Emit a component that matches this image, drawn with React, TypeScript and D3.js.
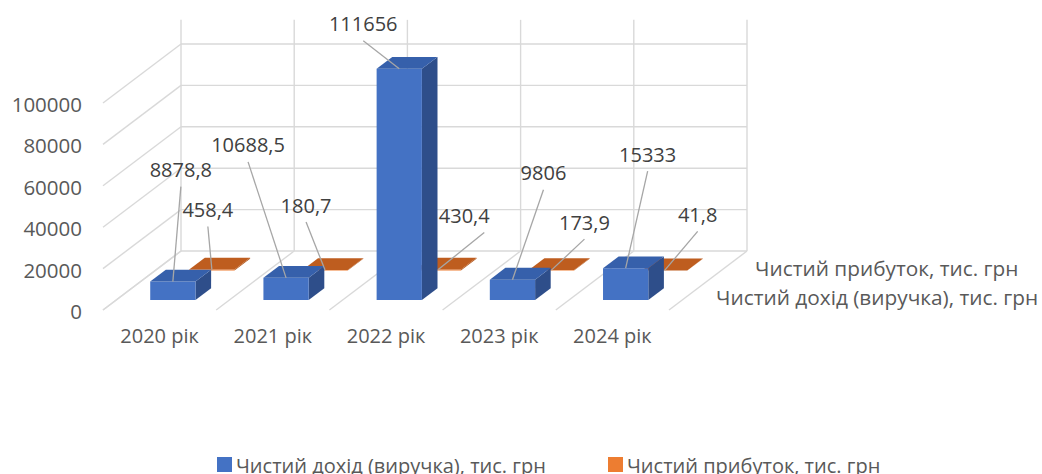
import * as d3 from "d3";

const categories = ["2020 рік", "2021 рік", "2022 рік", "2023 рік", "2024 рік"];
const revenue = [8878.8, 10688.5, 111656, 9806, 15333];
const profit = [458.4, 180.7, 430.4, 173.9, 41.8];
const seriesNames = ["Чистий дохід (виручка), тис. грн", "Чистий прибуток, тис. грн"];

// label placement relative to the bar's top-front edge: [dx, dy, leaderDx]
const revenueLabelPos = [[8, -112, 0], [-38, -133, 0], [-36, -45, 0], [31, -107, 0], [22, -114, 0]];
const profitLabelPos = [[-4, -60, 0], [-19, -65, 0], [26, -54, 20], [33, -48, 0], [33, -56, 0]];

const W = 1042;
const H = 474;
const X0 = 103; // front-left corner of the floor
const Y0 = 310;
const DX = 78; // depth shift, front -> back
const DY = 59;
const FLOOR_W = 566;
const FONT = "'Open Sans', 'DejaVu Sans', sans-serif";
const TEXT = "#595959";
const GRID = "#D9D9D9";

const colors = {
  revenue: { front: "#4472C4", side: "#2E4E8A", top: "#3660AB" },
  profit: { front: "#ED7D31", side: "#B05418", top: "#BE5D1F" },
};

const slot = d3.scaleBand<string>().domain(categories).range([0, FLOOR_W]);
const xBar = d3.scaleBand<string>().domain(categories).range([0, FLOOR_W]).paddingInner(0.6).paddingOuter(0.3);
const depth = d3.scaleBand<string>().domain(seriesNames).range([0.02, 1.02]).paddingInner(0.6).paddingOuter(0.3);
const yMax = d3.max(revenue) as number;
const y = d3.scaleLinear().domain([0, 100000]).range([0, 207]);
const ticks = y.ticks(6).filter((t) => t <= yMax);

const P = (u: number, d: number, v: number): [number, number] => [X0 + u + d * DX, Y0 - d * DY - y(v)];
const pts = (a: [number, number][]) => a.map((p) => p.join(",")).join(" ");
const fmt = (v: number) => String(v).replace(".", ",");

function Bar({ cat, series, v, c }: { cat: string; series: string; v: number; c: any }) {
  const u0 = xBar(cat)!;
  const u1 = u0 + xBar.bandwidth();
  const d0 = depth(series)!;
  const d1 = d0 + depth.bandwidth();
  const FBL = P(u0, d0, 0), FBR = P(u1, d0, 0), FTL = P(u0, d0, v), FTR = P(u1, d0, v);
  const BBR = P(u1, d1, 0), BTL = P(u0, d1, v), BTR = P(u1, d1, v);
  return (
    <g>
      <polygon points={pts([FBR, BBR, BTR, FTR])} fill={c.side} />
      <polygon points={pts([FBL, FBR, FTR, FTL])} fill={c.front} />
      <polygon points={pts([FTL, FTR, BTR, BTL])} fill={c.top} />
    </g>
  );
}

export default function App() {
  const rows = [
    { series: seriesNames[1], values: profit, c: colors.profit, pos: profitLabelPos },
    { series: seriesNames[0], values: revenue, c: colors.revenue, pos: revenueLabelPos },
  ];

  return (
    <svg width={W} height={H} style={{ position: "absolute", left: 0, top: 0, background: "#fff" }} fontFamily={FONT}>
      {/* back wall */}
      {ticks.map((t) => {
        const a = P(0, 1, t), b = P(FLOOR_W, 1, t), f = P(0, 0, t);
        return (
          <g key={"g" + t}>
            <line x1={a[0]} y1={a[1]} x2={b[0]} y2={b[1]} stroke={GRID} strokeWidth={1.4} />
            <line x1={a[0]} y1={a[1]} x2={f[0]} y2={f[1]} stroke={GRID} strokeWidth={1.4} />
          </g>
        );
      })}
      {d3.range(categories.length + 1).map((i) => {
        const u = i * slot.step();
        const top = P(u, 1, yMax), bot = P(u, 1, 0), front = P(u, 0, 0);
        return (
          <g key={"v" + i}>
            <line x1={top[0]} y1={top[1]} x2={bot[0]} y2={bot[1]} stroke={GRID} strokeWidth={1.4} />
            <line x1={bot[0]} y1={bot[1]} x2={front[0]} y2={front[1]} stroke={GRID} strokeWidth={1.4} />
          </g>
        );
      })}

      {/* value axis */}
      {ticks.map((t) => {
        const p = P(0, 0, t);
        return (
          <text key={"t" + t} x={p[0] - 21} y={p[1] + 1} textAnchor="end" dominantBaseline="central" fontSize={20.5} fill={TEXT}>
            {d3.format("d")(t)}
          </text>
        );
      })}

      {/* category axis */}
      {categories.map((cat) => {
        const p = P(slot(cat)! + slot.bandwidth() / 2, 0, 0);
        return (
          <text key={cat} x={p[0]} y={p[1] + 25} textAnchor="middle" dominantBaseline="central" fontSize={20} fill={TEXT}>
            {cat}
          </text>
        );
      })}

      {/* series axis */}
      {seriesNames.map((s) => {
        const p = P(FLOOR_W, depth(s)! + depth.bandwidth() / 2, 0);
        return (
          <text key={s} x={p[0] + 26} y={p[1] + 3} dominantBaseline="central" fontSize={20.8} fill={TEXT}>
            {s}
          </text>
        );
      })}

      {/* bars */}
      {rows.map((r) =>
        categories.map((cat, i) => <Bar key={r.series + cat} cat={cat} series={r.series} v={r.values[i]} c={r.c} />)
      )}

      {/* data labels */}
      {rows.map((r) =>
        categories.map((cat, i) => {
          const a = P(xBar(cat)! + xBar.bandwidth() / 2, depth(r.series)!, r.values[i]);
          const [dx, dy, ldx] = r.pos[i];
          const lx = a[0] + dx, ly = a[1] + dy;
          return (
            <g key={"l" + r.series + cat}>
              <line x1={lx + ldx} y1={ly + 17} x2={a[0]} y2={a[1]} stroke="#A6A6A6" strokeWidth={1.3} />
              <text x={lx} y={ly} textAnchor="middle" dominantBaseline="central" fontSize={20} fill="#404040">
                {fmt(r.values[i])}
              </text>
            </g>
          );
        })
      )}

      {/* legend (cut by the bottom edge, as in the original) */}
      {[
        { name: seriesNames[0], color: colors.revenue.front, x: 217 },
        { name: seriesNames[1], color: colors.profit.front, x: 608 },
      ].map((l) => (
        <g key={l.name}>
          <rect x={l.x} y={457} width={15} height={15} fill={l.color} />
          <text x={l.x + 19} y={473} fontSize={20} fill={TEXT}>
            {l.name}
          </text>
        </g>
      ))}
    </svg>
  );
}
